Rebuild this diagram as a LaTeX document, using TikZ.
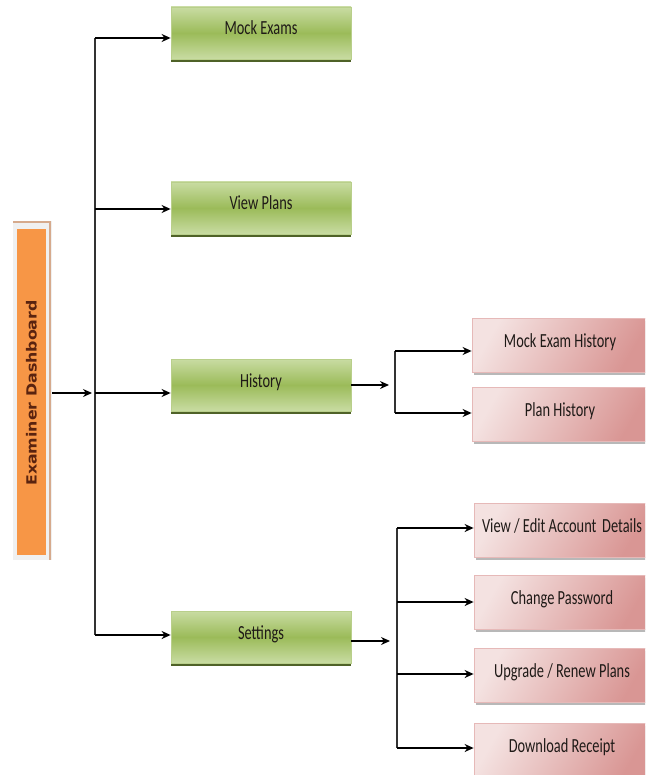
\documentclass[tikz,border=0pt]{standalone}
\usepackage{graphicx}
\usepackage{fontspec}
\setmainfont{Carlito}
\newfontfamily\dashfont{DejaVu Sans}
\usetikzlibrary{arrows.meta,shadows}
\definecolor{grn}{HTML}{9BBB59}
\definecolor{grnlt}{HTML}{C9DCA3}
\definecolor{grndk}{HTML}{4F6228}
\definecolor{pnk}{HTML}{D99694}
\definecolor{pnklt}{HTML}{F4E2E1}
\definecolor{pnkbd}{HTML}{E6B9B8}
\definecolor{org}{HTML}{F79646}
\definecolor{txtdk}{HTML}{1F1A17}
\newcommand\sqz[1]{\scalebox{0.72}[1]{#1}}
\tikzset{
  greenbox/.style={draw=grn!70!white, line width=0.8pt, top color=grnlt, bottom color=grnlt, middle color=grn,
    minimum width=180pt, minimum height=52pt, inner sep=0pt, text height=14pt, text depth=10pt,
    font=\fontsize{20}{22}\selectfont, text=txtdk,
    drop shadow={shadow xshift=0pt, shadow yshift=-3pt, fill=grndk, opacity=1}},
  pinkbox/.style={draw=pnkbd, line width=0.8pt, left color=pnklt, right color=pnk, shading angle=60,
    minimum width=176pt, minimum height=54pt, inner sep=0pt, text height=14pt, text depth=10pt,
    font=\fontsize{20}{22}\selectfont, text=txtdk,
    drop shadow={shadow xshift=2pt, shadow yshift=-3pt, fill=black!35, opacity=0.8}},
  arr/.style={-{Stealth[length=9pt,width=8pt]}, line width=1.3pt, black},
  trunk/.style={line width=1.3pt, black!80},
}
\begin{document}
\begin{tikzpicture}[x=1pt,y=-1pt]
\useasboundingbox (0,0) rectangle (645,775);
\clip (0,0) rectangle (645,775);
% dashboard
\fill[black!6] (13,221) rectangle (52,560);
\draw[line width=2pt, draw={rgb,255:red,214;green,170;blue,140}] (13,222) -- (50,222) -- (50,560);
\node[fill=org, minimum width=29pt, minimum height=326pt, inner sep=0pt] (dash) at (31.5,392) {};
\node[rotate=90, text={rgb,255:red,90;green,35;blue,15}, font=\dashfont\bfseries\fontsize{14}{16}\selectfont] at (31.5,393) {\scalebox{1.13}[1]{Examiner Dashboard}};
\coordinate (dashE) at (52,393);
% level 1
\node[greenbox] (mock) at (261,33) {\sqz{Mock Exams}};
\node[greenbox] (plans) at (261,208) {\sqz{View Plans}};
\node[greenbox] (hist) at (261,385) {\sqz{History}};
\node[greenbox] (sett) at (261,637) {\sqz{Settings}};
% trunk
\coordinate (j1) at (92,393);
\coordinate (t1) at (95,38);
\coordinate (t2) at (95,209);
\coordinate (t3) at (95,393);
\coordinate (t4) at (95,635);
\draw[arr] (dashE) -- (j1);
\draw[trunk] (t1) -- (t4);
\draw[arr] (t1) -- (mock.west |- t1);
\draw[arr] (t2) -- (plans.west |- t2);
\draw[arr] (t3) -- (hist.west |- t3);
\draw[arr] (t4) -- (sett.west |- t4);
% level 2 history
\node[pinkbox] (meh) at (560,345) {\sqz{Mock Exam History}};
\node[pinkbox] (ph) at (560,414) {\sqz{Plan History}};
\coordinate (h0) at (389,385);
\coordinate (h1) at (395,351);
\coordinate (h2) at (395,413);
\draw[arr] (hist.east |- h0) -- (h0);
\draw[trunk] (h1) -- (h2);
\draw[arr] (h1) -- (meh.west |- h1);
\draw[arr] (h2) -- (ph.west |- h2);
% level 2 settings
\node[pinkbox] (ved) at (562,530) {\sqz{View / Edit Account\, Details}};
\node[pinkbox] (cp) at (562,602) {\sqz{Change Password}};
\node[pinkbox] (up) at (562,675) {\sqz{Upgrade / Renew Plans}};
\node[pinkbox] (dr) at (562,750) {\sqz{Download Receipt}};
\coordinate (s0) at (390,641);
\coordinate (s1) at (397,528);
\coordinate (s2) at (397,602);
\coordinate (s3) at (397,674);
\coordinate (s4) at (397,748);
\draw[arr] (sett.east |- s0) -- (s0);
\draw[trunk] (s1) -- (s4);
\draw[arr] (s1) -- (ved.west |- s1);
\draw[arr] (s2) -- (cp.west |- s2);
\draw[arr] (s3) -- (up.west |- s3);
\draw[arr] (s4) -- (dr.west |- s4);
\end{tikzpicture}
\end{document}
